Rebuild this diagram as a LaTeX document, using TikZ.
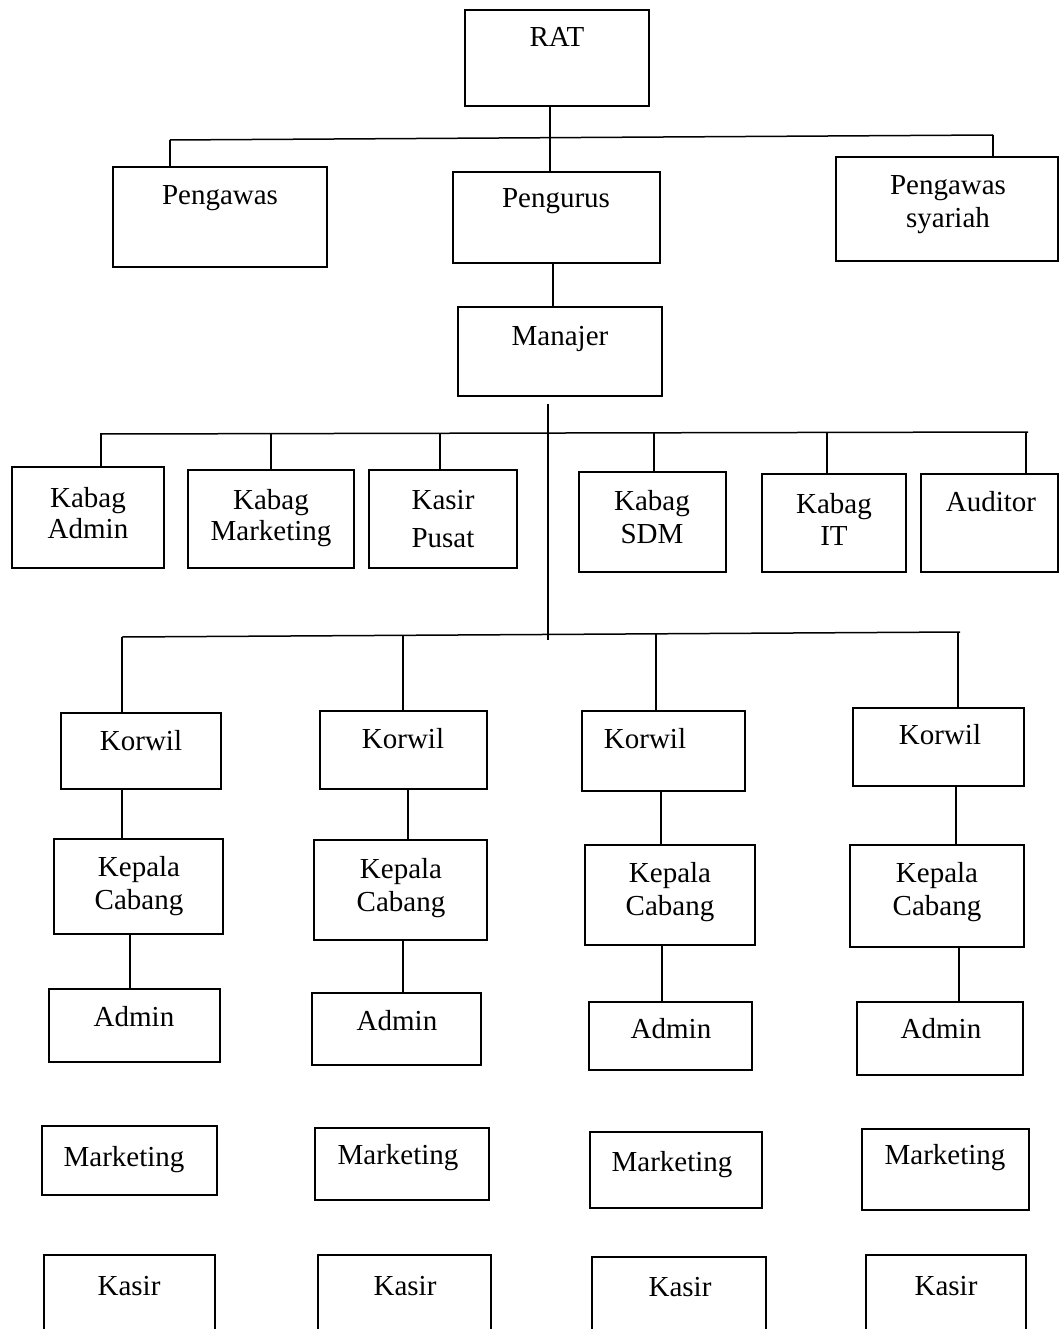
\documentclass[tikz,border=0pt]{standalone}
\usepackage{fontspec}
\setmainfont{Liberation Serif}
\usetikzlibrary{fit}

\tikzset{
  box/.style={draw, line width=1.6pt, inner sep=0pt},
  link/.style={line width=1.5pt},
  lbl/.style={font=\fontsize{29}{33}\selectfont, align=center, anchor=base, inner sep=0pt},
}

\begin{document}
\begin{tikzpicture}[x=1pt,y=-1pt]
  \useasboundingbox (0,0) rectangle (1060,1329);

  % top level
  \node[box, fit={(465,10) (649,106)}] (rat) {};
  \node[lbl] (rat-t) at (557,47) {RAT};
  \node[box, fit={(113,167) (327,267)}] (pengawas) {};
  \node[lbl] (pengawas-t) at (220,205) {Pengawas};
  \node[box, fit={(453,172) (660,263)}] (pengurus) {};
  \node[lbl] (pengurus-t) at (556,208) {Pengurus};
  \node[box, fit={(836,157) (1058,261)}] (pswas) {};
  \node[lbl] (pswas-t) at (948,228) {Pengawas\\syariah};
  \node[box, fit={(458,307) (662,396)}] (manajer) {};
  \node[lbl] (manajer-t) at (560,345) {Manajer};

  \draw[link] ([xshift=-7pt]rat.south) -- ([xshift=-6.5pt]pengurus.north);
  \coordinate (busA-l) at (170,140);
  \coordinate (busA-r) at (993,135);
  \draw[link] (busA-l) -- (busA-r);
  \draw[link] (busA-l) -- (busA-l |- pengawas.north);
  \draw[link] (busA-r) -- (busA-r |- pswas.north);
  \draw[link] ([xshift=-3.5pt]pengurus.south) -- ([xshift=-7pt]manajer.north);

  % kepala bagian
  \node[box, fit={(12,467) (164,568)}] (kadmin) {};
  \node[lbl] (kadmin-t) at (88,538) {Kabag\\[-2pt]Admin};
  \node[box, fit={(188,470) (354,568)}] (kmkt) {};
  \node[lbl] (kmkt-t) at (271,540) {Kabag\\[-2pt]Marketing};
  \node[box, fit={(369,470) (517,568)}] (kpusat) {};
  \node[lbl] (kpusat-t) at (443,547) {Kasir\\[5pt]Pusat};
  \node[box, fit={(579,472) (726,572)}] (ksdm) {};
  \node[lbl] (ksdm-t) at (652,543) {Kabag\\SDM};
  \node[box, fit={(762,474) (906,572)}] (kit) {};
  \node[lbl] (kit-t) at (834,545) {Kabag\\[-1pt]IT};
  \node[box, fit={(921,474) (1058,572)}] (auditor) {};
  \node[lbl] (auditor-t) at (991,511) {Auditor};

  \coordinate (stem-t) at (548,404);
  \coordinate (stem-b) at (548,640);
  \draw[link] (stem-t) -- (stem-b);
  \draw[link] (101,434) -- (1028,432);
  \foreach \n/\x in {kadmin/101, kmkt/271, kpusat/440, ksdm/654, kit/827, auditor/1026}
    \draw[link] (\x,433) -- (\x,433 |- \n.north);

  % cabang
  \node[box, fit={(61,713) (221,789)}] (korwil1) {};
  \node[box, fit={(320,711) (487,789)}] (korwil2) {};
  \node[box, fit={(582,711) (745,791)}] (korwil3) {};
  \node[box, fit={(853,708) (1024,786)}] (korwil4) {};
  \node[lbl] (korwil1-t) at (141,750) {Korwil};
  \node[lbl] (korwil2-t) at (403,748) {Korwil};
  \node[lbl] (korwil3-t) at (645,748) {Korwil};
  \node[lbl] (korwil4-t) at (940,744) {Korwil};

  \node[box, fit={(54,839) (223,934)}] (kacab1) {};
  \node[box, fit={(314,840) (487,940)}] (kacab2) {};
  \node[box, fit={(585,845) (755,945)}] (kacab3) {};
  \node[box, fit={(850,845) (1024,947)}] (kacab4) {};
  \node[lbl] (kacab1-t) at (139,909) {Kepala\\Cabang};
  \node[lbl] (kacab2-t) at (401,911) {Kepala\\Cabang};
  \node[lbl] (kacab3-t) at (670,915) {Kepala\\Cabang};
  \node[lbl] (kacab4-t) at (937,915) {Kepala\\Cabang};

  \node[box, fit={(49,989) (220,1062)}] (admin1) {};
  \node[box, fit={(312,993) (481,1065)}] (admin2) {};
  \node[box, fit={(589,1002) (752,1070)}] (admin3) {};
  \node[box, fit={(857,1002) (1023,1075)}] (admin4) {};
  \node[lbl] (admin1-t) at (134,1026) {Admin};
  \node[lbl] (admin2-t) at (397,1030) {Admin};
  \node[lbl] (admin3-t) at (671,1038) {Admin};
  \node[lbl] (admin4-t) at (941,1038) {Admin};

  \node[box, fit={(42,1126) (217,1195)}] (mkt1) {};
  \node[box, fit={(315,1128) (489,1200)}] (mkt2) {};
  \node[box, fit={(590,1132) (762,1208)}] (mkt3) {};
  \node[box, fit={(862,1129) (1029,1210)}] (mkt4) {};
  \node[lbl] (mkt1-t) at (124,1166) {Marketing};
  \node[lbl] (mkt2-t) at (398,1164) {Marketing};
  \node[lbl] (mkt3-t) at (672,1171) {Marketing};
  \node[lbl] (mkt4-t) at (945,1164) {Marketing};

  \node[box, fit={(44,1255) (215,1345)}] (kasir1) {};
  \node[box, fit={(318,1255) (491,1345)}] (kasir2) {};
  \node[box, fit={(592,1257) (766,1345)}] (kasir3) {};
  \node[box, fit={(866,1255) (1026,1345)}] (kasir4) {};
  \node[lbl] (kasir1-t) at (129,1295) {Kasir};
  \node[lbl] (kasir2-t) at (405,1295) {Kasir};
  \node[lbl] (kasir3-t) at (680,1296) {Kasir};
  \node[lbl] (kasir4-t) at (946,1295) {Kasir};

  \draw[link] (122,637) -- (960,632);
  \foreach \n/\x/\y in {korwil1/122/637, korwil2/403/635.5, korwil3/656/634, korwil4/958/632}
    \draw[link] (\x,\y) -- (\x,\y |- \n.north);
  \foreach \i/\xa/\xb in {1/122/130, 2/408/403, 3/661/662, 4/956/959} {
    \draw[link] (\xa,0 |- korwil\i.south) -- (\xa,0 |- kacab\i.north);
    \draw[link] (\xb,0 |- kacab\i.south) -- (\xb,0 |- admin\i.north);
  }
\end{tikzpicture}
\end{document}
